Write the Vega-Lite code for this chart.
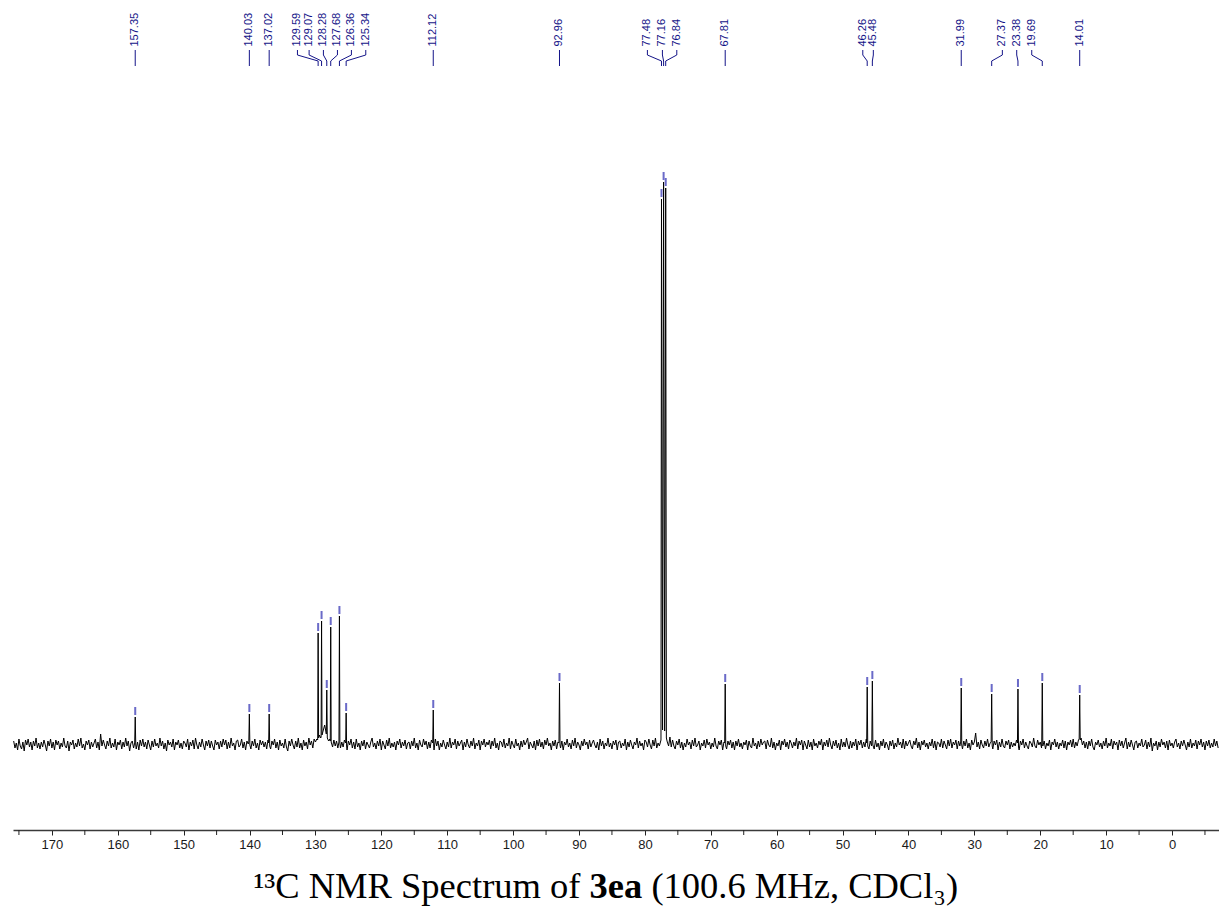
{
  "$schema": "https://vega.github.io/schema/vega-lite/v6.json",
  "width": 1206,
  "height": 830,
  "padding": {"left": 13, "top": 0, "right": 0, "bottom": 81},
  "autosize": {"type": "none"},
  "background": "white",
  "config": {"view": {"stroke": null}},
  "datasets": {
    "spectrum": [
      {"d":175.8,"i":3},{"d":175.6,"i":-4},{"d":175.4,"i":1},{"d":175.2,"i":-6},{"d":175.0,"i":5},{"d":174.8,"i":-2},{"d":174.6,"i":-5},{"d":174.4,"i":2},{"d":174.2,"i":-7},{"d":174.0,"i":4},
      {"d":173.8,"i":-1},{"d":173.6,"i":5},{"d":173.4,"i":-3},{"d":173.2,"i":2},{"d":173.0,"i":-6},{"d":172.8,"i":3},{"d":172.6,"i":-2},{"d":172.4,"i":6},{"d":172.2,"i":-4},{"d":172.0,"i":1},
      {"d":171.8,"i":-5},{"d":171.6,"i":2},{"d":171.4,"i":-3},{"d":171.2,"i":4},{"d":171.0,"i":-1},{"d":170.8,"i":-7},{"d":170.6,"i":3},{"d":170.4,"i":-2},{"d":170.2,"i":5},{"d":170.0,"i":-4},
      {"d":169.8,"i":2},{"d":169.6,"i":-6},{"d":169.4,"i":4},{"d":169.2,"i":-1},{"d":169.0,"i":3},{"d":168.8,"i":-5},{"d":168.6,"i":1},{"d":168.4,"i":-3},{"d":168.2,"i":6},{"d":168.0,"i":-2},
      {"d":167.8,"i":-4},{"d":167.6,"i":3},{"d":167.4,"i":-7},{"d":167.2,"i":2},{"d":167.0,"i":-1},{"d":166.8,"i":4},{"d":166.6,"i":-5},{"d":166.4,"i":1},{"d":166.2,"i":-3},{"d":166.0,"i":5},
      {"d":165.8,"i":-2},{"d":165.6,"i":6},{"d":165.4,"i":-4},{"d":165.2,"i":0},{"d":165.0,"i":-6},{"d":164.8,"i":3},{"d":164.6,"i":-1},{"d":164.4,"i":4},{"d":164.2,"i":-5},{"d":164.0,"i":2},
      {"d":163.8,"i":-3},{"d":163.6,"i":1},{"d":163.4,"i":5},{"d":163.2,"i":-4},{"d":163.0,"i":2},{"d":162.8,"i":-6},{"d":162.6,"i":10},{"d":162.4,"i":-2},{"d":162.2,"i":4},{"d":162.0,"i":-1},
      {"d":161.8,"i":-5},{"d":161.6,"i":3},{"d":161.4,"i":-2},{"d":161.2,"i":6},{"d":161.0,"i":-4},{"d":160.8,"i":1},{"d":160.6,"i":-3},{"d":160.4,"i":5},{"d":160.2,"i":-6},{"d":160.0,"i":2},
      {"d":159.8,"i":-1},{"d":159.6,"i":4},{"d":159.4,"i":-5},{"d":159.2,"i":2},{"d":159.0,"i":-3},{"d":158.8,"i":6},{"d":158.6,"i":-2},{"d":158.4,"i":3},{"d":158.2,"i":-7},{"d":158.0,"i":1},
      {"d":157.8,"i":3},{"d":157.6,"i":-4},{"d":157.43,"i":1},{"d":157.35,"i":27},{"d":157.27,"i":-1},{"d":157.2,"i":-5},{"d":157.0,"i":2},{"d":156.8,"i":-6},{"d":156.6,"i":4},{"d":156.4,"i":-2},{"d":156.2,"i":5},{"d":156.0,"i":-3},
      {"d":155.8,"i":2},{"d":155.6,"i":-5},{"d":155.4,"i":4},{"d":155.2,"i":-1},{"d":155.0,"i":-6},{"d":154.8,"i":3},{"d":154.6,"i":-3},{"d":154.4,"i":5},{"d":154.2,"i":-2},{"d":154.0,"i":1},
      {"d":153.8,"i":-4},{"d":153.6,"i":6},{"d":153.4,"i":-2},{"d":153.2,"i":3},{"d":153.0,"i":-5},{"d":152.8,"i":1},{"d":152.6,"i":-7},{"d":152.4,"i":4},{"d":152.2,"i":-1},{"d":152.0,"i":2},
      {"d":151.8,"i":-3},{"d":151.6,"i":5},{"d":151.4,"i":-6},{"d":151.2,"i":2},{"d":151.0,"i":-1},{"d":150.8,"i":4},{"d":150.6,"i":-4},{"d":150.4,"i":1},{"d":150.2,"i":-5},{"d":150.0,"i":3},
      {"d":149.8,"i":1},{"d":149.6,"i":-3},{"d":149.4,"i":5},{"d":149.2,"i":-6},{"d":149.0,"i":2},{"d":148.8,"i":-2},{"d":148.6,"i":4},{"d":148.4,"i":-5},{"d":148.2,"i":6},{"d":148.0,"i":-1},
      {"d":147.8,"i":-5},{"d":147.6,"i":2},{"d":147.4,"i":-3},{"d":147.2,"i":5},{"d":147.0,"i":-1},{"d":146.8,"i":-6},{"d":146.6,"i":3},{"d":146.4,"i":-2},{"d":146.2,"i":4},{"d":146.0,"i":-4},
      {"d":145.8,"i":3},{"d":145.6,"i":-2},{"d":145.4,"i":-6},{"d":145.2,"i":4},{"d":145.0,"i":-1},{"d":144.8,"i":2},{"d":144.6,"i":-5},{"d":144.4,"i":3},{"d":144.2,"i":-3},{"d":144.0,"i":5},
      {"d":143.8,"i":-1},{"d":143.6,"i":4},{"d":143.4,"i":-5},{"d":143.2,"i":2},{"d":143.0,"i":-4},{"d":142.8,"i":6},{"d":142.6,"i":-2},{"d":142.4,"i":1},{"d":142.2,"i":-6},{"d":142.0,"i":3},
      {"d":141.8,"i":4},{"d":141.6,"i":-3},{"d":141.4,"i":-1},{"d":141.2,"i":5},{"d":141.0,"i":-4},{"d":140.8,"i":2},{"d":140.6,"i":-6},{"d":140.4,"i":3},{"d":140.2,"i":0},{"d":140.11,"i":2},{"d":140.03,"i":30},{"d":139.95,"i":-1},
      {"d":139.8,"i":-5},{"d":139.6,"i":3},{"d":139.4,"i":-2},{"d":139.2,"i":5},{"d":139.0,"i":-4},{"d":138.8,"i":1},{"d":138.6,"i":-6},{"d":138.4,"i":4},{"d":138.2,"i":-1},{"d":138.0,"i":3},
      {"d":137.8,"i":-3},{"d":137.6,"i":2},{"d":137.4,"i":-5},{"d":137.2,"i":4},{"d":137.1,"i":1},{"d":137.02,"i":30},{"d":136.94,"i":-2},{"d":136.8,"i":-5},{"d":136.6,"i":3},{"d":136.4,"i":-1},{"d":136.2,"i":5},{"d":136.0,"i":-4},
      {"d":135.8,"i":2},{"d":135.6,"i":-6},{"d":135.4,"i":4},{"d":135.2,"i":-2},{"d":135.0,"i":1},{"d":134.8,"i":-4},{"d":134.6,"i":5},{"d":134.4,"i":-3},{"d":134.2,"i":-7},{"d":134.0,"i":3},
      {"d":133.8,"i":-2},{"d":133.6,"i":5},{"d":133.4,"i":-1},{"d":133.2,"i":-5},{"d":133.0,"i":3},{"d":132.8,"i":-3},{"d":132.6,"i":6},{"d":132.4,"i":-4},{"d":132.2,"i":1},{"d":132.0,"i":-6},
      {"d":131.8,"i":4},{"d":131.6,"i":-2},{"d":131.4,"i":2},{"d":131.2,"i":-5},{"d":131.0,"i":6},{"d":130.8,"i":-1},{"d":130.6,"i":3},{"d":130.4,"i":-4},{"d":130.2,"i":5},{"d":130.0,"i":2},
      {"d":129.8,"i":5},{"d":129.66,"i":4},{"d":129.59,"i":111},{"d":129.52,"i":6},{"d":129.4,"i":9},{"d":129.2,"i":6},{"d":129.14,"i":7},{"d":129.07,"i":123},{"d":129.0,"i":9},{"d":128.8,"i":14},{"d":128.6,"i":19},{"d":128.4,"i":12},{"d":128.35,"i":10},{"d":128.28,"i":54},{"d":128.2,"i":6},{"d":128.0,"i":3},
      {"d":127.8,"i":5},{"d":127.75,"i":3},{"d":127.68,"i":117},{"d":127.61,"i":2},{"d":127.4,"i":-3},{"d":127.2,"i":4},{"d":127.0,"i":-2},{"d":126.8,"i":3},{"d":126.6,"i":-4},{"d":126.43,"i":2},{"d":126.36,"i":128},{"d":126.29,"i":1},{"d":126.2,"i":-4},{"d":126.0,"i":2},
      {"d":125.8,"i":-3},{"d":125.6,"i":4},{"d":125.41,"i":1},{"d":125.34,"i":31},{"d":125.27,"i":-2},{"d":125.2,"i":-6},{"d":125.0,"i":3},{"d":124.8,"i":-1},{"d":124.6,"i":5},{"d":124.4,"i":-4},{"d":124.2,"i":2},{"d":124.0,"i":-5},
      {"d":123.8,"i":5},{"d":123.6,"i":-3},{"d":123.4,"i":1},{"d":123.2,"i":-6},{"d":123.0,"i":3},{"d":122.8,"i":-2},{"d":122.6,"i":4},{"d":122.4,"i":-5},{"d":122.2,"i":2},{"d":122.0,"i":-1},
      {"d":121.8,"i":-4},{"d":121.6,"i":2},{"d":121.4,"i":6},{"d":121.2,"i":-3},{"d":121.0,"i":1},{"d":120.8,"i":-5},{"d":120.6,"i":3},{"d":120.4,"i":-2},{"d":120.2,"i":5},{"d":120.0,"i":-6},
      {"d":119.8,"i":3},{"d":119.6,"i":-1},{"d":119.4,"i":-5},{"d":119.2,"i":4},{"d":119.0,"i":-2},{"d":118.8,"i":6},{"d":118.6,"i":-4},{"d":118.4,"i":1},{"d":118.2,"i":-3},{"d":118.0,"i":2},
      {"d":117.8,"i":-6},{"d":117.6,"i":3},{"d":117.4,"i":-1},{"d":117.2,"i":5},{"d":117.0,"i":-4},{"d":116.8,"i":2},{"d":116.6,"i":-2},{"d":116.4,"i":4},{"d":116.2,"i":-5},{"d":116.0,"i":1},
      {"d":115.8,"i":2},{"d":115.6,"i":-5},{"d":115.4,"i":3},{"d":115.2,"i":-2},{"d":115.0,"i":6},{"d":114.8,"i":-4},{"d":114.6,"i":1},{"d":114.4,"i":-6},{"d":114.2,"i":4},{"d":114.0,"i":-1},
      {"d":113.8,"i":-3},{"d":113.6,"i":5},{"d":113.4,"i":-1},{"d":113.2,"i":3},{"d":113.0,"i":-5},{"d":112.8,"i":2},{"d":112.6,"i":-4},{"d":112.4,"i":4},{"d":112.2,"i":1},{"d":112.12,"i":34},{"d":112.05,"i":-2},{"d":112.0,"i":-6},
      {"d":111.8,"i":5},{"d":111.6,"i":-2},{"d":111.4,"i":3},{"d":111.2,"i":-6},{"d":111.0,"i":1},{"d":110.8,"i":-3},{"d":110.6,"i":4},{"d":110.4,"i":-1},{"d":110.2,"i":-5},{"d":110.0,"i":2},
      {"d":109.8,"i":-3},{"d":109.6,"i":6},{"d":109.4,"i":-4},{"d":109.2,"i":2},{"d":109.0,"i":-1},{"d":108.8,"i":5},{"d":108.6,"i":-5},{"d":108.4,"i":3},{"d":108.2,"i":-2},{"d":108.0,"i":1},
      {"d":107.8,"i":4},{"d":107.6,"i":-6},{"d":107.4,"i":2},{"d":107.2,"i":-3},{"d":107.0,"i":5},{"d":106.8,"i":-1},{"d":106.6,"i":-4},{"d":106.4,"i":3},{"d":106.2,"i":-2},{"d":106.0,"i":6},
      {"d":105.8,"i":-5},{"d":105.6,"i":1},{"d":105.4,"i":-2},{"d":105.2,"i":4},{"d":105.0,"i":-6},{"d":104.8,"i":3},{"d":104.6,"i":-1},{"d":104.4,"i":5},{"d":104.2,"i":-3},{"d":104.0,"i":2},
      {"d":103.8,"i":-1},{"d":103.6,"i":4},{"d":103.4,"i":-5},{"d":103.2,"i":3},{"d":103.0,"i":-2},{"d":102.8,"i":6},{"d":102.6,"i":-4},{"d":102.4,"i":1},{"d":102.2,"i":-6},{"d":102.0,"i":3},
      {"d":101.8,"i":2},{"d":101.6,"i":-3},{"d":101.4,"i":5},{"d":101.2,"i":-4},{"d":101.0,"i":1},{"d":100.8,"i":-2},{"d":100.6,"i":6},{"d":100.4,"i":-5},{"d":100.2,"i":3},{"d":100.0,"i":-1},
      {"d":99.8,"i":-4},{"d":99.6,"i":5},{"d":99.4,"i":-2},{"d":99.2,"i":1},{"d":99.0,"i":-6},{"d":98.8,"i":3},{"d":98.6,"i":-3},{"d":98.4,"i":4},{"d":98.2,"i":-1},{"d":98.0,"i":2},
      {"d":97.8,"i":6},{"d":97.6,"i":-5},{"d":97.4,"i":2},{"d":97.2,"i":-1},{"d":97.0,"i":-4},{"d":96.8,"i":3},{"d":96.6,"i":-6},{"d":96.4,"i":4},{"d":96.2,"i":-2},{"d":96.0,"i":5},
      {"d":95.8,"i":-3},{"d":95.6,"i":2},{"d":95.4,"i":-5},{"d":95.2,"i":4},{"d":95.0,"i":-1},{"d":94.8,"i":6},{"d":94.6,"i":-2},{"d":94.4,"i":1},{"d":94.2,"i":-6},{"d":94.0,"i":3},
      {"d":93.8,"i":-2},{"d":93.6,"i":4},{"d":93.4,"i":-5},{"d":93.2,"i":2},{"d":93.04,"i":1},{"d":92.96,"i":61},{"d":92.88,"i":-1},{"d":92.8,"i":-4},{"d":92.6,"i":3},{"d":92.4,"i":-6},{"d":92.2,"i":2},{"d":92.0,"i":-1},
      {"d":91.8,"i":5},{"d":91.6,"i":-3},{"d":91.4,"i":1},{"d":91.2,"i":-5},{"d":91.0,"i":4},{"d":90.8,"i":-2},{"d":90.6,"i":6},{"d":90.4,"i":-4},{"d":90.2,"i":2},{"d":90.0,"i":-1},
      {"d":89.8,"i":-6},{"d":89.6,"i":3},{"d":89.4,"i":-2},{"d":89.2,"i":5},{"d":89.0,"i":-1},{"d":88.8,"i":2},{"d":88.6,"i":-5},{"d":88.4,"i":4},{"d":88.2,"i":-3},{"d":88.0,"i":1},
      {"d":87.8,"i":4},{"d":87.6,"i":-1},{"d":87.4,"i":-4},{"d":87.2,"i":2},{"d":87.0,"i":-6},{"d":86.8,"i":5},{"d":86.6,"i":-2},{"d":86.4,"i":3},{"d":86.2,"i":-5},{"d":86.0,"i":1},
      {"d":85.8,"i":-2},{"d":85.6,"i":6},{"d":85.4,"i":-3},{"d":85.2,"i":1},{"d":85.0,"i":-5},{"d":84.8,"i":3},{"d":84.6,"i":-1},{"d":84.4,"i":4},{"d":84.2,"i":-6},{"d":84.0,"i":2},
      {"d":83.8,"i":3},{"d":83.6,"i":-4},{"d":83.4,"i":1},{"d":83.2,"i":-2},{"d":83.0,"i":5},{"d":82.8,"i":-6},{"d":82.6,"i":2},{"d":82.4,"i":-3},{"d":82.2,"i":4},{"d":82.0,"i":-1},
      {"d":81.8,"i":-5},{"d":81.6,"i":2},{"d":81.4,"i":-1},{"d":81.2,"i":6},{"d":81.0,"i":-4},{"d":80.8,"i":3},{"d":80.6,"i":-2},{"d":80.4,"i":1},{"d":80.2,"i":-6},{"d":80.0,"i":4},
      {"d":79.8,"i":2},{"d":79.6,"i":-3},{"d":79.4,"i":5},{"d":79.2,"i":-1},{"d":79.0,"i":-5},{"d":78.8,"i":4},{"d":78.6,"i":-2},{"d":78.4,"i":6},{"d":78.2,"i":-4},{"d":78.0,"i":1},
      {"d":77.8,"i":-2},{"d":77.6,"i":3},{"d":77.56,"i":4},{"d":77.48,"i":545},{"d":77.32,"i":14},{"d":77.16,"i":562},{"d":77.0,"i":13},{"d":76.84,"i":556},{"d":76.74,"i":6},{"d":76.6,"i":2},{"d":76.4,"i":-2},{"d":76.2,"i":7},{"d":76.0,"i":-3},
      {"d":75.8,"i":4},{"d":75.6,"i":-2},{"d":75.4,"i":-5},{"d":75.2,"i":3},{"d":75.0,"i":-1},{"d":74.8,"i":5},{"d":74.6,"i":-4},{"d":74.4,"i":2},{"d":74.2,"i":-6},{"d":74.0,"i":1},
      {"d":73.8,"i":-3},{"d":73.6,"i":5},{"d":73.4,"i":-1},{"d":73.2,"i":2},{"d":73.0,"i":-5},{"d":72.8,"i":4},{"d":72.6,"i":-2},{"d":72.4,"i":6},{"d":72.2,"i":-3},{"d":72.0,"i":-1},
      {"d":71.8,"i":3},{"d":71.6,"i":-6},{"d":71.4,"i":1},{"d":71.2,"i":-2},{"d":71.0,"i":4},{"d":70.8,"i":-4},{"d":70.6,"i":5},{"d":70.4,"i":-1},{"d":70.2,"i":2},{"d":70.0,"i":-5},
      {"d":69.8,"i":1},{"d":69.6,"i":-3},{"d":69.4,"i":6},{"d":69.2,"i":-2},{"d":69.0,"i":-5},{"d":68.8,"i":3},{"d":68.6,"i":-1},{"d":68.4,"i":4},{"d":68.2,"i":-6},{"d":68.0,"i":2},
      {"d":67.89,"i":1},{"d":67.81,"i":60},{"d":67.73,"i":-2},{"d":67.6,"i":-5},{"d":67.4,"i":3},{"d":67.2,"i":-1},{"d":67.0,"i":4},{"d":66.8,"i":-4},{"d":66.6,"i":2},{"d":66.4,"i":-6},{"d":66.2,"i":3},{"d":66.0,"i":-2},
      {"d":65.8,"i":5},{"d":65.6,"i":-3},{"d":65.4,"i":1},{"d":65.2,"i":-5},{"d":65.0,"i":2},{"d":64.8,"i":-1},{"d":64.6,"i":4},{"d":64.4,"i":-6},{"d":64.2,"i":3},{"d":64.0,"i":-2},
      {"d":63.8,"i":-4},{"d":63.6,"i":6},{"d":63.4,"i":-2},{"d":63.2,"i":1},{"d":63.0,"i":-5},{"d":62.8,"i":3},{"d":62.6,"i":-3},{"d":62.4,"i":5},{"d":62.2,"i":-1},{"d":62.0,"i":2},
      {"d":61.8,"i":3},{"d":61.6,"i":-5},{"d":61.4,"i":4},{"d":61.2,"i":-1},{"d":61.0,"i":-3},{"d":60.8,"i":6},{"d":60.6,"i":-4},{"d":60.4,"i":2},{"d":60.2,"i":-6},{"d":60.0,"i":1},
      {"d":59.8,"i":-2},{"d":59.6,"i":4},{"d":59.4,"i":-6},{"d":59.2,"i":3},{"d":59.0,"i":-1},{"d":58.8,"i":5},{"d":58.6,"i":-3},{"d":58.4,"i":2},{"d":58.2,"i":-5},{"d":58.0,"i":4},
      {"d":57.8,"i":1},{"d":57.6,"i":-4},{"d":57.4,"i":2},{"d":57.2,"i":-2},{"d":57.0,"i":6},{"d":56.8,"i":-5},{"d":56.6,"i":3},{"d":56.4,"i":-1},{"d":56.2,"i":4},{"d":56.0,"i":-6},
      {"d":55.8,"i":3},{"d":55.6,"i":-1},{"d":55.4,"i":-5},{"d":55.2,"i":4},{"d":55.0,"i":-3},{"d":54.8,"i":2},{"d":54.6,"i":-6},{"d":54.4,"i":5},{"d":54.2,"i":-2},{"d":54.0,"i":1},
      {"d":53.8,"i":-4},{"d":53.6,"i":3},{"d":53.4,"i":-1},{"d":53.2,"i":5},{"d":53.0,"i":-6},{"d":52.8,"i":2},{"d":52.6,"i":-2},{"d":52.4,"i":4},{"d":52.2,"i":-3},{"d":52.0,"i":6},
      {"d":51.8,"i":-1},{"d":51.6,"i":-5},{"d":51.4,"i":3},{"d":51.2,"i":-2},{"d":51.0,"i":4},{"d":50.8,"i":-4},{"d":50.6,"i":1},{"d":50.4,"i":-6},{"d":50.2,"i":5},{"d":50.0,"i":-3},
      {"d":49.8,"i":2},{"d":49.6,"i":-3},{"d":49.4,"i":6},{"d":49.2,"i":-1},{"d":49.0,"i":-5},{"d":48.8,"i":3},{"d":48.6,"i":-4},{"d":48.4,"i":2},{"d":48.2,"i":-2},{"d":48.0,"i":5},
      {"d":47.8,"i":-6},{"d":47.6,"i":3},{"d":47.4,"i":-1},{"d":47.2,"i":4},{"d":47.0,"i":-4},{"d":46.8,"i":2},{"d":46.6,"i":-3},{"d":46.4,"i":5},{"d":46.34,"i":1},{"d":46.26,"i":57},{"d":46.18,"i":-2},{"d":46.0,"i":-5},
      {"d":45.8,"i":3},{"d":45.6,"i":-2},{"d":45.56,"i":2},{"d":45.48,"i":63},{"d":45.4,"i":-1},{"d":45.2,"i":-5},{"d":45.0,"i":4},{"d":44.8,"i":-3},{"d":44.6,"i":1},{"d":44.4,"i":-6},{"d":44.2,"i":3},{"d":44.0,"i":-2},
      {"d":43.8,"i":5},{"d":43.6,"i":-4},{"d":43.4,"i":2},{"d":43.2,"i":-1},{"d":43.0,"i":-6},{"d":42.8,"i":3},{"d":42.6,"i":-2},{"d":42.4,"i":4},{"d":42.2,"i":-5},{"d":42.0,"i":1},
      {"d":41.8,"i":-3},{"d":41.6,"i":6},{"d":41.4,"i":-1},{"d":41.2,"i":2},{"d":41.0,"i":-4},{"d":40.8,"i":5},{"d":40.6,"i":-5},{"d":40.4,"i":3},{"d":40.2,"i":-2},{"d":40.0,"i":1},
      {"d":39.8,"i":4},{"d":39.6,"i":-2},{"d":39.4,"i":-5},{"d":39.2,"i":3},{"d":39.0,"i":-1},{"d":38.8,"i":6},{"d":38.6,"i":-4},{"d":38.4,"i":2},{"d":38.2,"i":-6},{"d":38.0,"i":3},
      {"d":37.8,"i":-1},{"d":37.6,"i":4},{"d":37.4,"i":-3},{"d":37.2,"i":1},{"d":37.0,"i":-5},{"d":36.8,"i":2},{"d":36.6,"i":-2},{"d":36.4,"i":5},{"d":36.2,"i":-4},{"d":36.0,"i":3},
      {"d":35.8,"i":-6},{"d":35.6,"i":2},{"d":35.4,"i":1},{"d":35.2,"i":-3},{"d":35.0,"i":5},{"d":34.8,"i":-4},{"d":34.6,"i":3},{"d":34.4,"i":-1},{"d":34.2,"i":-5},{"d":34.0,"i":4},
      {"d":33.8,"i":-2},{"d":33.6,"i":5},{"d":33.4,"i":-4},{"d":33.2,"i":2},{"d":33.0,"i":-1},{"d":32.8,"i":4},{"d":32.6,"i":-5},{"d":32.4,"i":3},{"d":32.2,"i":-2},{"d":32.07,"i":2},{"d":31.99,"i":56},{"d":31.91,"i":-1},
      {"d":31.8,"i":-5},{"d":31.6,"i":3},{"d":31.4,"i":-2},{"d":31.2,"i":5},{"d":31.0,"i":-4},{"d":30.8,"i":1},{"d":30.6,"i":-6},{"d":30.4,"i":4},{"d":30.2,"i":-1},{"d":30.0,"i":2},
      {"d":29.8,"i":11},{"d":29.6,"i":-3},{"d":29.4,"i":2},{"d":29.2,"i":-5},{"d":29.0,"i":4},{"d":28.8,"i":-1},{"d":28.6,"i":-4},{"d":28.4,"i":3},{"d":28.2,"i":-2},{"d":28.0,"i":5},
      {"d":27.8,"i":-3},{"d":27.6,"i":1},{"d":27.45,"i":2},{"d":27.37,"i":50},{"d":27.29,"i":-2},{"d":27.2,"i":-5},{"d":27.0,"i":3},{"d":26.8,"i":-1},{"d":26.6,"i":4},{"d":26.4,"i":-6},{"d":26.2,"i":2},{"d":26.0,"i":-3},
      {"d":25.8,"i":5},{"d":25.6,"i":-2},{"d":25.4,"i":-4},{"d":25.2,"i":3},{"d":25.0,"i":-1},{"d":24.8,"i":4},{"d":24.6,"i":-5},{"d":24.4,"i":2},{"d":24.2,"i":-3},{"d":24.0,"i":1},
      {"d":23.8,"i":-2},{"d":23.6,"i":4},{"d":23.46,"i":1},{"d":23.38,"i":55},{"d":23.3,"i":-3},{"d":23.2,"i":-6},{"d":23.0,"i":3},{"d":22.8,"i":-1},{"d":22.6,"i":5},{"d":22.4,"i":-4},{"d":22.2,"i":2},{"d":22.0,"i":-2},
      {"d":21.8,"i":-5},{"d":21.6,"i":3},{"d":21.4,"i":1},{"d":21.2,"i":-3},{"d":21.0,"i":6},{"d":20.8,"i":-2},{"d":20.6,"i":-4},{"d":20.4,"i":4},{"d":20.2,"i":-1},{"d":20.0,"i":2},
      {"d":19.8,"i":-4},{"d":19.77,"i":2},{"d":19.69,"i":61},{"d":19.61,"i":-2},{"d":19.4,"i":3},{"d":19.2,"i":-5},{"d":19.0,"i":1},{"d":18.8,"i":-2},{"d":18.6,"i":4},{"d":18.4,"i":-6},{"d":18.2,"i":2},{"d":18.0,"i":-1},
      {"d":17.8,"i":5},{"d":17.6,"i":-3},{"d":17.4,"i":2},{"d":17.2,"i":-5},{"d":17.0,"i":1},{"d":16.8,"i":-2},{"d":16.6,"i":4},{"d":16.4,"i":-4},{"d":16.2,"i":3},{"d":16.0,"i":-6},
      {"d":15.8,"i":2},{"d":15.6,"i":-1},{"d":15.4,"i":4},{"d":15.2,"i":-3},{"d":15.0,"i":5},{"d":14.8,"i":-4},{"d":14.6,"i":2},{"d":14.4,"i":-2},{"d":14.2,"i":4},{"d":14.09,"i":5},{"d":14.01,"i":49},{"d":13.93,"i":4},
      {"d":13.8,"i":6},{"d":13.6,"i":-1},{"d":13.4,"i":3},{"d":13.2,"i":-4},{"d":13.0,"i":2},{"d":12.8,"i":-5},{"d":12.6,"i":3},{"d":12.4,"i":-2},{"d":12.2,"i":5},{"d":12.0,"i":-3},
      {"d":11.8,"i":-6},{"d":11.6,"i":2},{"d":11.4,"i":-1},{"d":11.2,"i":4},{"d":11.0,"i":-3},{"d":10.8,"i":1},{"d":10.6,"i":-5},{"d":10.4,"i":3},{"d":10.2,"i":-2},{"d":10.0,"i":6},
      {"d":9.8,"i":-4},{"d":9.6,"i":1},{"d":9.4,"i":-2},{"d":9.2,"i":5},{"d":9.0,"i":-5},{"d":8.8,"i":3},{"d":8.6,"i":-1},{"d":8.4,"i":2},{"d":8.2,"i":-6},{"d":8.0,"i":4},
      {"d":7.8,"i":-2},{"d":7.6,"i":3},{"d":7.4,"i":-4},{"d":7.2,"i":1},{"d":7.0,"i":6},{"d":6.8,"i":-5},{"d":6.6,"i":2},{"d":6.4,"i":-3},{"d":6.2,"i":4},{"d":6.0,"i":-1},
      {"d":5.8,"i":-6},{"d":5.6,"i":2},{"d":5.4,"i":3},{"d":5.2,"i":-4},{"d":5.0,"i":1},{"d":4.8,"i":-2},{"d":4.6,"i":5},{"d":4.4,"i":-3},{"d":4.2,"i":-1},{"d":4.0,"i":4},
      {"d":3.8,"i":-5},{"d":3.6,"i":2},{"d":3.4,"i":-3},{"d":3.2,"i":6},{"d":3.0,"i":-7},{"d":2.8,"i":1},{"d":2.6,"i":-2},{"d":2.4,"i":3},{"d":2.2,"i":-6},{"d":2.0,"i":2},
      {"d":1.8,"i":-3},{"d":1.6,"i":5},{"d":1.4,"i":-1},{"d":1.2,"i":2},{"d":1.0,"i":-4},{"d":0.8,"i":3},{"d":0.6,"i":-6},{"d":0.4,"i":4},{"d":0.2,"i":-2},{"d":0.0,"i":1},
      {"d":-0.2,"i":-4},{"d":-0.4,"i":2},{"d":-0.6,"i":5},{"d":-0.8,"i":-3},{"d":-1.0,"i":1},{"d":-1.2,"i":-5},{"d":-1.4,"i":3},{"d":-1.6,"i":-2},{"d":-1.8,"i":4},{"d":-2.0,"i":-1},
      {"d":-2.2,"i":-6},{"d":-2.4,"i":2},{"d":-2.6,"i":-3},{"d":-2.8,"i":5},{"d":-3.0,"i":-4},{"d":-3.2,"i":1},{"d":-3.4,"i":-2},{"d":-3.6,"i":4},{"d":-3.8,"i":-5},{"d":-4.0,"i":3},
      {"d":-4.2,"i":-1},{"d":-4.4,"i":5},{"d":-4.6,"i":-3},{"d":-4.8,"i":2},{"d":-5.0,"i":-6},{"d":-5.2,"i":3},{"d":-5.4,"i":-2},{"d":-5.6,"i":4},{"d":-5.8,"i":-4},{"d":-6.0,"i":1},
      {"d":-6.2,"i":-3},{"d":-6.4,"i":5},{"d":-6.6,"i":-2},{"d":-6.8,"i":3},{"d":-7.0,"i":-4}
    ],
    "peaks": [
      {"ppm":157.35,"h":27,"lp":157.35},
      {"ppm":140.03,"h":30,"lp":140.03},
      {"ppm":137.02,"h":30,"lp":137.02},
      {"ppm":129.59,"h":111,"lp":132.73},
      {"ppm":129.07,"h":123,"lp":130.96},
      {"ppm":128.28,"h":54,"lp":128.79},
      {"ppm":127.68,"h":117,"lp":126.66},
      {"ppm":126.36,"h":128,"lp":124.54},
      {"ppm":125.34,"h":31,"lp":122.36},
      {"ppm":112.12,"h":34,"lp":112.12},
      {"ppm":92.96,"h":61,"lp":92.96},
      {"ppm":77.48,"h":545,"lp":79.62},
      {"ppm":77.16,"h":562,"lp":77.34},
      {"ppm":76.84,"h":556,"lp":75.16},
      {"ppm":67.81,"h":60,"lp":67.81},
      {"ppm":46.26,"h":57,"lp":46.93},
      {"ppm":45.48,"h":63,"lp":45.33},
      {"ppm":31.99,"h":56,"lp":31.99},
      {"ppm":27.37,"h":50,"lp":25.75},
      {"ppm":23.38,"h":55,"lp":23.57},
      {"ppm":19.69,"h":61,"lp":21.29},
      {"ppm":14.01,"h":49,"lp":14.01}
    ],
    "minorTicks": [
      {"m":175},{"m":165},{"m":155},{"m":145},{"m":135},{"m":125},{"m":115},{"m":105},{"m":95},{"m":85},
      {"m":75},{"m":65},{"m":55},{"m":45},{"m":35},{"m":25},{"m":15},{"m":5},{"m":-5}
    ],
    "caption": [
      {"pre": "¹³C NMR Spectrum of", "cmp": "3ea", "post": "(100.6 MHz, CDCl₃)"}
    ]
  },
  "layer": [
    {
      "data": {"name": "spectrum"},
      "mark": {"type": "line", "color": "#000000", "strokeWidth": 1},
      "encoding": {
        "x": {
          "field": "d", "type": "quantitative",
          "scale": {"domain": [-7.13, 175.9], "reverse": true, "nice": false, "zero": false},
          "axis": {
            "title": null,
            "values": [170,160,150,140,130,120,110,100,90,80,70,60,50,40,30,20,10,0],
            "grid": false,
            "domainColor": "#3a3a3a", "domainWidth": 1.6,
            "tickColor": "#222222", "tickSize": 5, "tickWidth": 1,
            "labelFont": "Liberation Sans", "labelFontSize": 13, "labelColor": "#1a1a1a",
            "labelPadding": 3, "labelFlush": false, "labelOverlap": false
          }
        },
        "y": {
          "field": "i", "type": "quantitative",
          "scale": {"domain": [-86, 744], "nice": false, "zero": false},
          "axis": null
        }
      }
    },
    {
      "data": {"name": "minorTicks"},
      "mark": {"type": "rule", "color": "#222222", "strokeWidth": 1, "y2Offset": 5},
      "encoding": {
        "x": {"field": "m", "type": "quantitative"},
        "y": {"datum": -86, "type": "quantitative", "axis": null},
        "y2": {"datum": -86}
      }
    },
    {
      "data": {"name": "peaks"},
      "mark": {"type": "rule", "color": "#6a6ac8", "strokeWidth": 2, "yOffset": -2, "y2Offset": -10},
      "encoding": {
        "x": {"field": "ppm", "type": "quantitative"},
        "y": {"field": "h", "type": "quantitative", "axis": null},
        "y2": {"field": "h"}
      }
    },
    {
      "data": {"name": "peaks"},
      "mark": {"type": "rule", "color": "#141488", "strokeWidth": 1},
      "encoding": {
        "x": {"field": "ppm", "type": "quantitative"},
        "y": {"datum": 683, "type": "quantitative", "axis": null},
        "y2": {"datum": 678}
      }
    },
    {
      "data": {"name": "peaks"},
      "mark": {"type": "rule", "color": "#141488", "strokeWidth": 1},
      "encoding": {
        "x": {"field": "lp", "type": "quantitative"},
        "x2": {"field": "ppm"},
        "y": {"datum": 689, "type": "quantitative", "axis": null},
        "y2": {"datum": 683}
      }
    },
    {
      "data": {"name": "peaks"},
      "mark": {"type": "rule", "color": "#141488", "strokeWidth": 1},
      "encoding": {
        "x": {"field": "lp", "type": "quantitative"},
        "y": {"datum": 694, "type": "quantitative", "axis": null},
        "y2": {"datum": 689}
      }
    },
    {
      "data": {"name": "peaks"},
      "mark": {"type": "text", "angle": 270, "align": "left", "baseline": "middle", "font": "Liberation Sans", "fontSize": 11, "color": "#141488"},
      "encoding": {
        "x": {"field": "lp", "type": "quantitative"},
        "y": {"datum": 697.5, "type": "quantitative", "axis": null},
        "text": {"field": "ppm", "type": "quantitative", "format": ".2f"}
      }
    },
    {
      "data": {"name": "caption"},
      "mark": {"type": "text", "align": "right", "baseline": "alphabetic", "dx": -35.5, "font": "Liberation Serif", "fontSize": 36.5, "color": "#000000"},
      "encoding": {
        "x": {"datum": 84.39, "type": "quantitative"},
        "y": {"datum": -154, "type": "quantitative", "axis": null},
        "text": {"field": "pre"}
      }
    },
    {
      "data": {"name": "caption"},
      "mark": {"type": "text", "align": "center", "baseline": "alphabetic", "font": "Liberation Serif", "fontSize": 36.5, "fontWeight": "bold", "color": "#000000"},
      "encoding": {
        "x": {"datum": 84.39, "type": "quantitative"},
        "y": {"datum": -154, "type": "quantitative", "axis": null},
        "text": {"field": "cmp"}
      }
    },
    {
      "data": {"name": "caption"},
      "mark": {"type": "text", "align": "left", "baseline": "alphabetic", "dx": 35.5, "font": "Liberation Serif", "fontSize": 36.5, "color": "#000000"},
      "encoding": {
        "x": {"datum": 84.39, "type": "quantitative"},
        "y": {"datum": -154, "type": "quantitative", "axis": null},
        "text": {"field": "post"}
      }
    }
  ]
}
